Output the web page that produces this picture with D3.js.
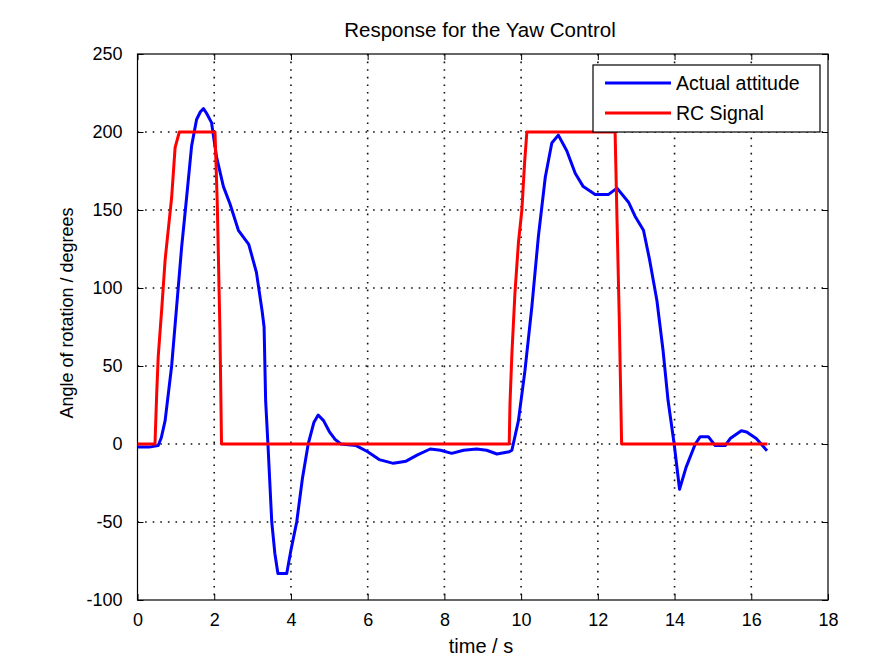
<!DOCTYPE html>
<html>
<head>
<meta charset="utf-8">
<script src="https://cdn.jsdelivr.net/npm/d3@7"></script>
<style>
  body { margin: 0; background: #fff; }
  svg text { font-family: "Liberation Sans", Arial, sans-serif; fill: #000; }
</style>
</head>
<body>
<div id="chart"></div>
<script>
// axis setup
var xTicks = [0, 2, 4, 6, 8, 10, 12, 14, 16, 18];
var yTicks = [-100, -50, 0, 50, 100, 150, 200, 250];

// Actual attitude (blue)
var attTime = [0, 0.3, 0.54, 0.62, 0.72, 0.89, 1.02, 1.15, 1.28, 1.41, 1.54, 1.64, 1.72, 1.8, 1.93, 2.06, 2.24, 2.41, 2.63,
  2.9, 3.1, 3.25, 3.3, 3.34, 3.4, 3.5, 3.58, 3.66, 3.89, 4.0, 4.15, 4.3, 4.45, 4.6, 4.71, 4.85, 5.0, 5.15, 5.3, 5.7,
  6.0, 6.3, 6.67, 7.0, 7.3, 7.63, 7.9, 8.19, 8.5, 8.84, 9.1, 9.37, 9.69, 9.76, 9.93, 10.1, 10.28, 10.45, 10.63, 10.8,
  10.97, 11.19, 11.41, 11.62, 11.93, 12.28, 12.5, 12.8, 12.97, 13.19, 13.35, 13.54, 13.7, 13.83, 13.99, 14.13, 14.3,
  14.54, 14.67, 14.88, 15.06, 15.32, 15.45, 15.74, 15.88, 16.13, 16.41];
var attValue = [-2, -2, -1, 4, 15, 50, 88, 126, 158, 191, 208, 213, 215, 212, 206, 184, 165, 154, 137,
  128, 110, 85, 75, 28, 0, -50, -70, -83, -83, -68, -50, -22, 0, 14, 18.6, 15, 8, 3, 0, -1,
  -5, -10, -12.4, -11, -7, -3.2, -4, -6, -4, -3.2, -4, -6.4, -5, -4, 15, 47, 88, 133, 171, 193,
  198, 188, 173.5, 165, 160, 160, 164, 155, 146, 137, 118, 92, 60, 28, 0, -29, -15,
  0, 4.7, 4.7, -1, -1, 3.5, 8.5, 7.7, 3.5, -4.3];

// RC Signal (red)
var rcTime = [0, 0.456, 0.5, 0.54, 0.63, 0.72, 0.8, 0.89, 0.98, 1.09, 2.02, 2.08, 2.15, 2.19,
  9.69, 9.71, 9.76, 9.84, 9.93, 10.02, 10.09, 10.15, 12.45, 12.5, 12.56, 12.62, 16.42];
var rcValue = [0, 0, 32, 56, 86, 118, 137, 158, 190, 200, 200, 154, 71, 0,
  0, 26, 58, 97, 129, 150, 180, 200, 200, 144, 79, 0, 0];

var seriesNames = ["Actual attitude", "RC Signal"];
var seriesColors = ["#0000ff", "#ff0000"];

var width = 884, height = 666;
var margin = {left: 137.5, top: 54, right: 56, bottom: 66};
var plotW = width - margin.left - margin.right,
    plotH = height - margin.top - margin.bottom;

var svg = d3.select("#chart")
  .append("svg")
  .attr("width", width)
  .attr("height", height);

svg.append("rect").attr("width", width).attr("height", height).attr("fill", "#fff");

var g = svg.append("g")
  .attr("transform", "translate(" + margin.left + "," + margin.top + ")");

var x = d3.scaleLinear().domain([0, 18]).range([0, plotW]);
var y = d3.scaleLinear().domain([-100, 250]).range([plotH, 0]);

// grid
g.selectAll(".vgrid")
  .data(xTicks.slice(1, -1))
  .enter()
  .append("line")
  .attr("x1", d => x(d)).attr("x2", d => x(d))
  .attr("y1", 0).attr("y2", plotH)
  .style("stroke", "#111")
  .style("stroke-width", 1.6)
  .style("stroke-dasharray", "1.6,6");

g.selectAll(".hgrid")
  .data(yTicks.slice(1, -1))
  .enter()
  .append("line")
  .attr("x1", 0).attr("x2", plotW)
  .attr("y1", d => y(d)).attr("y2", d => y(d))
  .style("stroke", "#111")
  .style("stroke-width", 1.6)
  .style("stroke-dasharray", "1.6,6");

// axes with inward ticks, plain hyphen minus like matlab
var fmt = d => String(d);
var fs = "18px";
var xAxis = g.append("g")
  .attr("transform", "translate(0," + plotH + ")")
  .call(d3.axisBottom(x).tickValues(xTicks).tickSize(-6).tickPadding(13).tickFormat(fmt));
var xTop = g.append("g")
  .call(d3.axisTop(x).tickValues(xTicks).tickSize(-6).tickFormat(""));
var yAxis = g.append("g")
  .call(d3.axisLeft(y).tickValues(yTicks).tickSize(-6).tickPadding(15).tickFormat(fmt));
var yRight = g.append("g")
  .attr("transform", "translate(" + plotW + ",0)")
  .call(d3.axisRight(y).tickValues(yTicks).tickSize(-6).tickFormat(""));

[xAxis, xTop, yAxis, yRight].forEach(function(a) {
  a.select(".domain").remove();
  a.selectAll(".tick line").style("stroke", "#000").style("stroke-width", 1);
  a.selectAll("text").style("font-size", fs).style("font-family", "'Liberation Sans', Arial, sans-serif");
});

g.append("rect")
  .attr("width", plotW).attr("height", plotH)
  .attr("fill", "none")
  .style("stroke", "#000")
  .style("stroke-width", 1.2);

// lines
var line = d3.line()
  .x(d => x(d[0]))
  .y(d => y(d[1]));

var series = [
  d3.zip(attTime, attValue),
  d3.zip(rcTime, rcValue)
];

g.selectAll(".series")
  .data(series)
  .enter()
  .append("path")
  .attr("d", line)
  .attr("fill", "none")
  .style("stroke", (d, i) => seriesColors[i])
  .style("stroke-width", 3)
  .style("stroke-linejoin", "round");

// legend
var lg = svg.append("g").attr("transform", "translate(593,65)");
lg.append("rect")
  .attr("width", 227).attr("height", 67)
  .attr("fill", "#fff")
  .style("stroke", "#000")
  .style("stroke-width", 1.2);
seriesNames.forEach(function(name, i) {
  lg.append("line")
    .attr("x1", 12).attr("x2", 78)
    .attr("y1", 18 + i * 30).attr("y2", 18 + i * 30)
    .style("stroke", seriesColors[i])
    .style("stroke-width", 3);
  lg.append("text")
    .attr("x", 83).attr("y", 25 + i * 30)
    .style("font-size", "19.5px")
    .text(name);
});

// titles
svg.append("text")
  .attr("x", 480).attr("y", 37)
  .attr("text-anchor", "middle")
  .style("font-size", "20.5px")
  .text("Response for the Yaw Control");

svg.append("text")
  .attr("x", 481).attr("y", 653)
  .attr("text-anchor", "middle")
  .style("font-size", "20px")
  .text("time / s");

svg.append("text")
  .attr("transform", "translate(73,313) rotate(-90)")
  .attr("text-anchor", "middle")
  .style("font-size", "18px")
  .text("Angle of rotation / degrees");
</script>
</body>
</html>
